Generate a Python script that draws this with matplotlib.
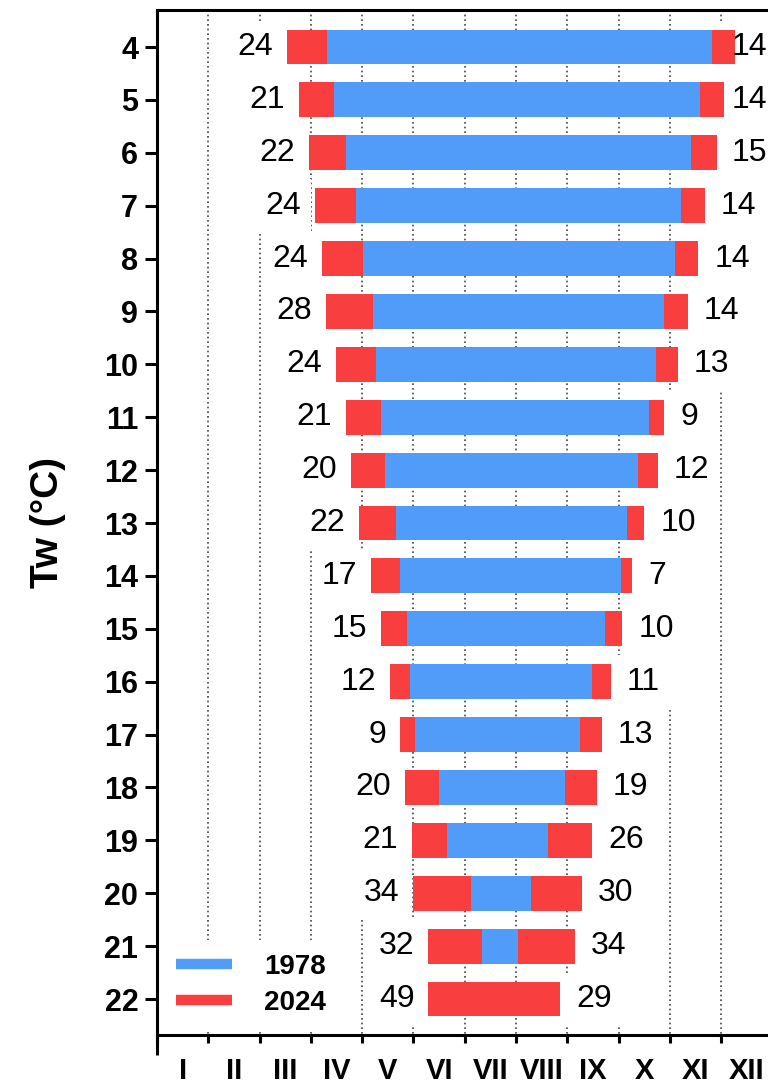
import matplotlib
matplotlib.use("Agg")
import matplotlib.pyplot as plt
from matplotlib.lines import Line2D
from matplotlib.patches import Rectangle
import numpy as np

plt.rcParams['font.family'] = ['Liberation Sans', 'DejaVu Sans']

# water temperature thresholds (°C)
tw = [4, 5, 6, 7, 8, 9, 10, 11, 12, 13, 14, 15, 16, 17, 18, 19, 20, 21, 22]
# 1978: first / last day of year with Tw above threshold
start_1978 = [101, 105, 112, 118, 122, 128, 130, 133, 135, 142, 144, 148, 150, 153, 167, 172, 186, 193, 210]
end_1978 = [329, 322, 317, 311, 307, 301, 296, 292, 285, 279, 275, 266, 258, 251, 242, 232, 222, 214, 210]
# 2024: days earlier / later than in 1978
earlier_2024 = [24, 21, 22, 24, 24, 28, 24, 21, 20, 22, 17, 15, 12, 9, 20, 21, 34, 32, 49]
later_2024 = [14, 14, 15, 14, 14, 14, 13, 9, 12, 10, 7, 10, 11, 13, 19, 26, 30, 34, 29]
months = ['I', 'II', 'III', 'IV', 'V', 'VI', 'VII', 'VIII', 'IX', 'X', 'XI', 'XII']

BLUE = '#509CF8'
RED = '#F83E3E'
DAYS = 365.0
MW = DAYS / 12

fig = plt.figure(figsize=(7.68, 10.84), dpi=100)
ax = fig.add_axes([157 / 768, 1 - 1035 / 1084, 615.4 / 768, 1025 / 1084])

y = np.array(tw)
s = np.array(start_1978, dtype=float)
e = np.array(end_1978, dtype=float)
a = np.array(earlier_2024, dtype=float)
b = np.array(later_2024, dtype=float)

h = 0.66
ax.barh(y, a, left=s - a, height=h, color=RED, linewidth=0, zorder=2)
ax.barh(y, b, left=e, height=h, color=RED, linewidth=0, zorder=2)
ax.barh(y, e - s, left=s, height=h, color=BLUE, linewidth=0, zorder=3)

ax.set_xlim(0, DAYS)
ax.set_ylim(22.68, 3.3)

# dotted month grid
ax.vlines(np.arange(1, 12) * MW, 3.3, 22.68, colors='#444444', linewidth=1.2,
          linestyles=(0, (1, 1.8)), zorder=0.3)

left_txt = []
right_txt = []
for yi, si, ei, ai, bi in zip(y, s, e, a, b):
    left_txt.append(ax.annotate(f"{int(ai)}", (si - ai, yi), xytext=(-10, 0), textcoords='offset points',
                                ha='right', va='center', fontsize=23, zorder=4))
    right_txt.append(ax.annotate(f"{int(bi)}", (ei + bi, yi), xytext=(11.5, 0), textcoords='offset points',
                                 ha='left', va='center', fontsize=23, zorder=4))

# axes styling
for side in ['left', 'bottom', 'top']:
    ax.spines[side].set_linewidth(2.2)
ax.spines['right'].set_visible(False)

ax.set_yticks(tw)
ax.set_yticklabels([str(t) for t in tw], fontsize=22, fontweight='bold')
ax.tick_params(axis='y', length=8.5, width=2.2, pad=5)

ax.set_xticks(np.arange(13) * MW)
ax.set_xticklabels([])
ax.set_xticks((np.arange(12) + 0.5) * MW, minor=True)
ax.set_xticklabels(months, minor=True, fontsize=21, fontweight='bold')
ax.tick_params(axis='x', which='major', length=6, width=2.2)
ax.tick_params(axis='x', which='minor', length=0, pad=16)

ax.plot([0, 0], [0, -20 / 1025], transform=ax.transAxes, clip_on=False,
        color='black', linewidth=2.2, solid_capstyle='butt')

ax.set_ylabel('Tw (°C)', fontsize=28, fontweight='bold')
ax.yaxis.set_label_coords(-0.148, 0.5)

handles = [Line2D([], [], color=BLUE, linewidth=7.5, solid_capstyle='butt'),
           Line2D([], [], color=RED, linewidth=7.5, solid_capstyle='butt')]
leg = ax.legend(handles, ['1978', '2024'], loc='lower left', bbox_to_anchor=(0, 0),
                prop={'weight': 'bold', 'size': 20}, frameon=True, framealpha=1,
                facecolor='white', edgecolor='none', handlelength=2.0, handletextpad=1.15,
                labelspacing=0.35, borderpad=0.5, borderaxespad=0.2)
leg.set_zorder(5)

# keep right labels inside the figure, then mask the grid behind every label
fig.canvas.draw()
r = fig.canvas.get_renderer()
for t in right_txt:
    bb = t.get_window_extent(r)
    over = bb.x1 - 767
    if over > 0:
        t.xyann = (t.xyann[0] - over * 72 / fig.dpi, 0)
fig.canvas.draw()
inv = ax.transData.inverted()
for t, pad in [(t, 9) for t in left_txt] + [(t, 11) for t in right_txt]:
    bb = t.get_window_extent(r)
    x0 = inv.transform((bb.x0 - pad, 0))[0]
    x1 = inv.transform((bb.x1 + pad, 0))[0]
    yc = t.xy[1]
    ax.add_patch(Rectangle((x0, yc - 0.5), x1 - x0, 1.0, facecolor='white',
                           edgecolor='none', zorder=0.5))

fig.savefig('out.png', dpi=100)
